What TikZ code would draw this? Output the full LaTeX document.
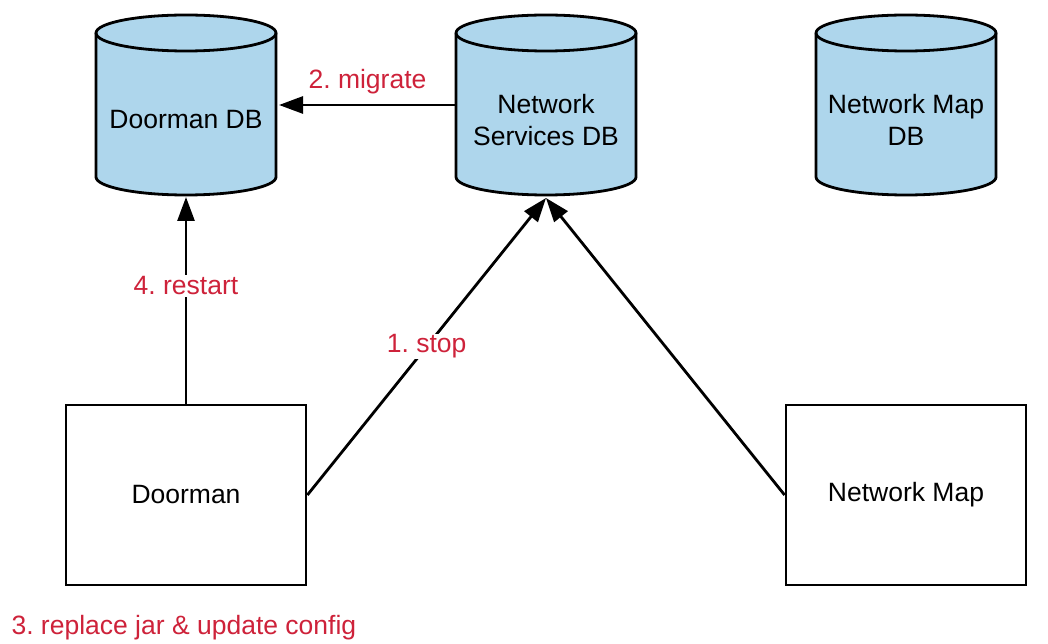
\documentclass[tikz,border=0pt]{standalone}
\usepackage{fontspec}
\setmainfont{Liberation Sans}
\usetikzlibrary{arrows.meta}
\definecolor{dbblue}{RGB}{174,214,236}
\definecolor{stepred}{RGB}{206,34,58}
\frenchspacing
\newcommand\dbcylinder[1]{%
  \path[cylline] ({#1-90},-33) -- ({#1-90},-177)
    arc[start angle=180,end angle=360,x radius=90pt,y radius=18pt]
    -- ({#1+90},-33)
    arc[start angle=0,end angle=180,x radius=90pt,y radius=18pt] -- cycle;
  \draw[line width=2.8pt] ({#1+90},-33)
    arc[start angle=0,end angle=-180,x radius=90pt,y radius=18pt];
}
\begin{document}
\begin{tikzpicture}[x=1pt,y=1pt,
  txt/.style={font=\fontsize{26.5}{32}\selectfont, align=center, text=black},
  redtxt/.style={font=\fontsize{26.5}{32}\selectfont, text=stepred},
  cylbox/.style={minimum width=180pt, minimum height=180pt, inner sep=0pt, outer sep=0pt},
  boxnode/.style={draw, line width=2.8pt, minimum width=240pt, minimum height=180pt, inner sep=0pt, txt},
  arr/.style={line width=2.8pt, -{Triangle[length=24pt,width=17pt]}},
  cylline/.style={draw=black, line width=2.8pt, fill=dbblue, line join=round},
]
\useasboundingbox (0,0) rectangle (1048,-644);
\fill[white] (0,0) rectangle (1048,-644);
\dbcylinder{186}
\dbcylinder{546}
\dbcylinder{906}
\node[cylbox, label={[txt,yshift=-15pt]center:Doorman DB}] (ddb) at (186,-105) {};
\node[cylbox, label={[txt,yshift=-15pt]center:Network\\Services DB}] (nsdb) at (546,-105) {};
\node[cylbox, label={[txt,yshift=-15pt]center:Network Map\\DB}] (nmdb) at (906,-105) {};
\node[boxnode] (door) at (186,-495) {Doorman};
\node[boxnode] (nm) at (906,-495) {Network Map};
\draw[arr] (nsdb.west) -- node[redtxt, yshift=23pt] {2. migrate} ([xshift=3pt]ddb.east);
\draw[arr] (door.north) -- node[redtxt, fill=white, pos=0.57, inner sep=2pt] {4. restart} ([yshift=-2pt]ddb.south);
\draw[arr] (door.east) -- node[redtxt, fill=white, inner sep=1pt] {1. stop} ([yshift=-3pt]nsdb.south);
\draw[arr] (nm.west) -- ([yshift=-3pt]nsdb.south);
\node[redtxt, anchor=west] (note) at (8,-628) {3. replace jar \& update config};
\end{tikzpicture}
\end{document}
